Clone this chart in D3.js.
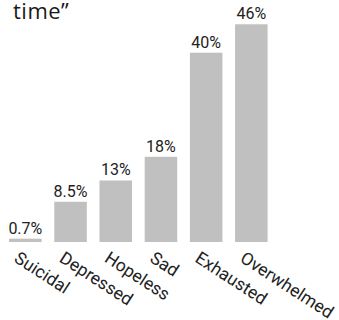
<!DOCTYPE html>
<html><head><meta charset="utf-8">
<script src="https://cdn.jsdelivr.net/npm/d3@7"></script>
<style>body{margin:0;background:#fff;overflow:hidden}</style>
</head><body>
<script>
const categories = ["Suicidal","Depressed","Hopeless","Sad","Exhausted","Overwhelmed"];
const values = [0.7, 8.5, 13, 18, 40, 46];
const valueLabels = ["0.7%","8.5%","13%","18%","40%","46%"];
const titleText = "time\u201d";

const W = 339, H = 320;
const svg = d3.select("body").append("svg").attr("width", W).attr("height", H);

const x = d3.scaleBand().domain(categories).range([2.75, 273.95]).paddingInner(0.28).paddingOuter(0.14);
const y = d3.scaleLinear().domain([0, 46]).range([242, 24.3]);

svg.append("text").attr("x", 13).attr("y", 19)
  .attr("font-family", "'Open Sans', sans-serif").attr("font-size", 22).attr("fill", "#1a1a1a")
  .attr("letter-spacing", 0.5)
  .text(titleText);

svg.selectAll("rect.bar").data(values).join("rect").attr("class","bar")
  .attr("x", (d,i) => x(categories[i])).attr("width", x.bandwidth())
  .attr("y", d => y(d)).attr("height", d => y(0) - y(d))
  .attr("fill", "#c0c0c0");

svg.selectAll("text.val").data(values).join("text").attr("class","val")
  .attr("x", (d,i) => x(categories[i]) + x.bandwidth()/2)
  .attr("y", d => y(d) - 5)
  .attr("text-anchor","middle")
  .attr("font-family","Roboto, sans-serif").attr("font-size",16).attr("fill","#222")
  .text((d,i) => valueLabels[i]);

svg.selectAll("text.cat").data(categories).join("text").attr("class","cat")
  .attr("transform", d => `translate(${x(d) + 4},261) rotate(33)`)
  .attr("font-family","Roboto, sans-serif").attr("font-size",17.5).attr("fill","#222")
  .text(d => d);
</script>
</body></html>
